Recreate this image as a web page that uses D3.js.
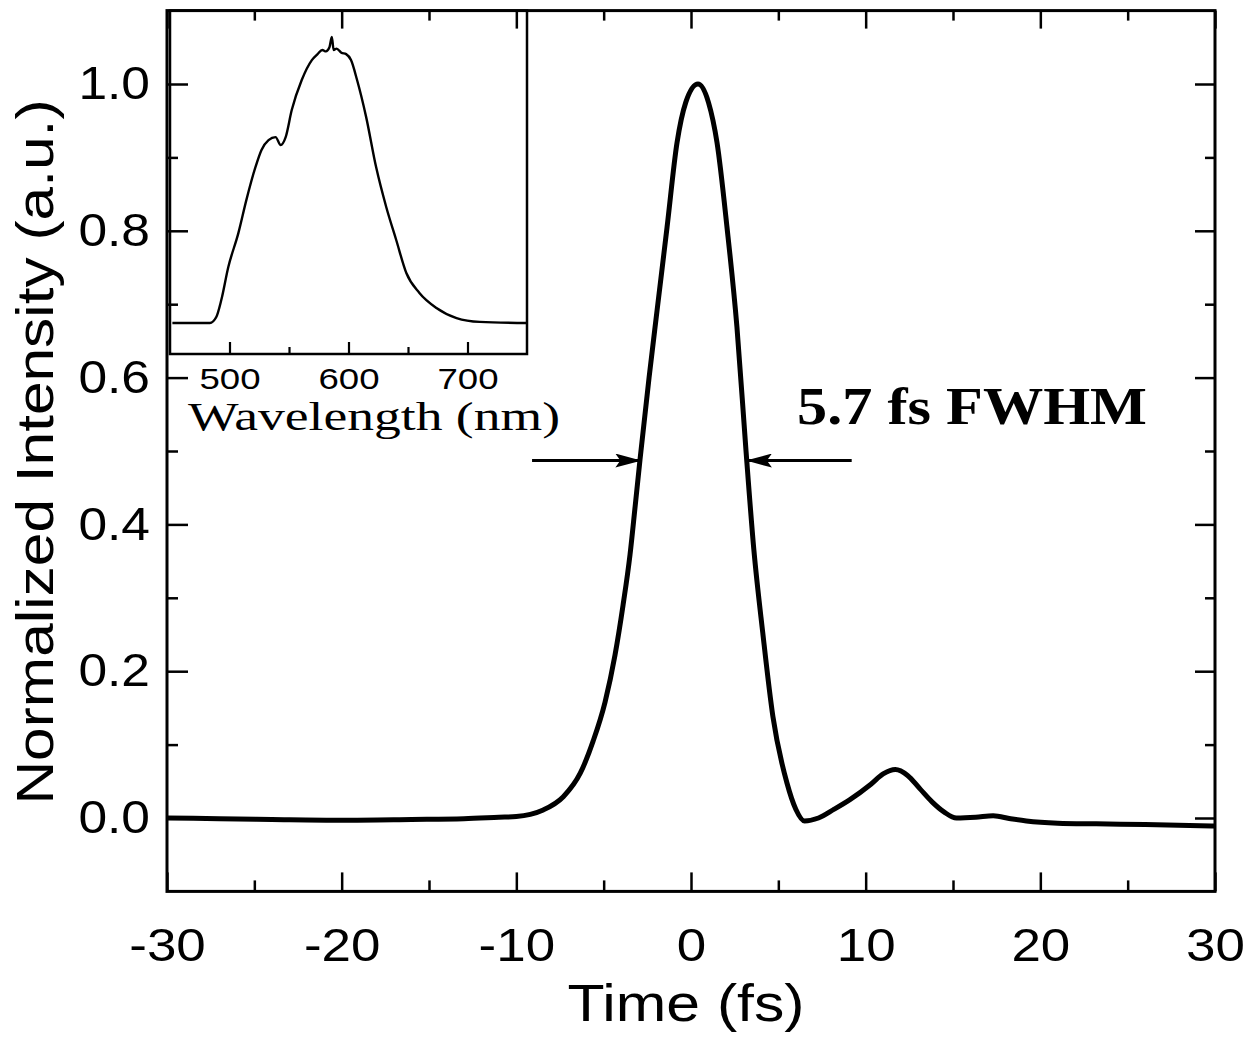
<!DOCTYPE html>
<html>
<head>
<meta charset="utf-8">
<script src="https://cdn.jsdelivr.net/npm/d3@7"></script>
<style>
  html, body { margin: 0; padding: 0; background: #fff; }
  svg { display: block; }
</style>
</head>
<body>
<svg id="chart" width="1249" height="1040"></svg>
<script>
// ---------------- DATA ----------------
// Main trace: time (fs) and normalized intensity
const timeFs = [-30, -27, -24, -20, -16, -13, -11, -10, -9.2, -8.46, -7.31, -6.34, -5.6, -4.92, -4.35, -3.89, -3.49, -3.2, -2.92, -2.4, -1.94, -1.37, -0.8, -0.3, 0.4, 1.0, 1.49, 2.06, 2.63, 3.15, 3.6, 4.11, 4.69, 5.49, 6.0, 6.5, 7.3, 8.2, 9.1, 10.3, 11.0, 11.7, 12.4, 13.1, 13.8, 14.5, 15.2, 16.3, 17.3, 18.3, 19.2, 21, 23.2, 26, 30];
const intensity = [0.0, -0.001, -0.002, -0.003, -0.002, -0.001, 0.001, 0.002, 0.005, 0.011, 0.029, 0.061, 0.105, 0.158, 0.222, 0.29, 0.359, 0.424, 0.488, 0.6, 0.692, 0.805, 0.92, 0.975, 1.0, 0.975, 0.92, 0.805, 0.669, 0.5, 0.365, 0.252, 0.138, 0.048, 0.012, -0.004, 0.0, 0.012, 0.025, 0.046, 0.06, 0.066, 0.058, 0.04, 0.022, 0.008, 0.0, 0.001, 0.003, -0.001, -0.004, -0.007, -0.008, -0.009, -0.011];

// Inset spectrum: wavelength (nm) and relative intensity
const wavelengthNm = [452, 483.5, 488.9, 493.1, 499.0, 507.5, 514.2, 521.8, 526.9, 532.8, 538.7, 543.0, 547.2, 552.3, 560.7, 569.2, 574, 578, 581, 584, 586, 587.5, 590, 594, 598, 602.1, 607.2, 614.8, 623.2, 631.7, 640.1, 648.6, 659.6, 673.9, 690.8, 710.3, 750];
const spectrum = [0, 0, 0.022, 0.084, 0.205, 0.330, 0.451, 0.571, 0.634, 0.670, 0.681, 0.652, 0.681, 0.780, 0.890, 0.963, 0.985, 1.0, 0.995, 1.01, 1.048, 1.0, 1.005, 0.99, 0.985, 0.963, 0.890, 0.755, 0.571, 0.425, 0.304, 0.183, 0.110, 0.055, 0.018, 0.004, 0];

// Tick values / labels
const xMajorTicks = [-30, -20, -10, 0, 10, 20, 30];
const xMinorTicks = [-25, -15, -5, 5, 15, 25];
const yMajorTicks = [0.0, 0.2, 0.4, 0.6, 0.8, 1.0];
const yMinorTicks = [0.1, 0.3, 0.5, 0.7, 0.9];
const insetMajorTicks = [500, 600, 700];
const insetMinorTicks = [550, 650];

// FWHM annotation (time in fs, level in normalized intensity)
const fwhmLevel = 0.487;
const fwhmLeftArrow = [-9.1, -2.9];
const fwhmRightArrow = [9.2, 3.2];

// ---------------- DRAW ----------------
const svg = d3.select("#chart");
const SANS = "'Liberation Sans', Arial, Helvetica, sans-serif";
const SERIF = "'Liberation Serif', 'Times New Roman', Times, serif";

const x = d3.scaleLinear().domain([-30, 30]).range([167, 1215]);
const y = d3.scaleLinear().domain([-0.1, 1.1]).range([891.4, 10.6]);

function stretch(sel, factor) {
  sel.each(function () {
    const L = this.getComputedTextLength();
    d3.select(this).attr("textLength", L * factor).attr("lengthAdjust", "spacingAndGlyphs");
  });
}
function styleAxis(g, sw) {
  g.select(".domain").remove();
  g.selectAll(".tick line").attr("stroke", "#000").attr("stroke-width", sw);
}
const plainInt = d => String(d);

// main curve
const line = d3.line()
  .x((d, i) => x(timeFs[i]))
  .y((d, i) => y(intensity[i]))
  .curve(d3.curveMonotoneX);
svg.append("path")
  .attr("d", line(intensity))
  .attr("fill", "none")
  .attr("stroke", "#000")
  .attr("stroke-width", 5)
  .attr("stroke-linejoin", "round");

// Inset
const ix = d3.scaleLinear().domain([450, 750]).range([170, 527]);
const iy = d3.scaleLinear().domain([-0.1136, 1.1443]).range([354, 10.6]);
const inset = svg.append("g");
inset.append("rect")
  .attr("x", ix(450)).attr("y", iy(1.1443))
  .attr("width", ix(750) - ix(450)).attr("height", iy(-0.1136) - iy(1.1443))
  .attr("fill", "none").attr("stroke", "#000").attr("stroke-width", 2.5);
const iLine = d3.line()
  .x((d, i) => ix(wavelengthNm[i]))
  .y((d, i) => iy(spectrum[i]))
  .curve(d3.curveMonotoneX);
inset.append("path")
  .attr("d", iLine(spectrum))
  .attr("fill", "none").attr("stroke", "#000").attr("stroke-width", 2.4)
  .attr("stroke-linejoin", "round");
const iBot = inset.append("g").attr("transform", `translate(0,${iy(-0.1136)})`)
  .call(d3.axisBottom(ix).tickValues(insetMajorTicks).tickSize(-12).tickPadding(14).tickFormat(plainInt));
styleAxis(iBot, 2.2);
iBot.selectAll("text").attr("font-family", SANS).attr("font-size", 30).attr("fill", "#000");
stretch(iBot.selectAll("text"), 1.22);
const iBotMinor = inset.append("g").attr("transform", `translate(0,${iy(-0.1136)})`)
  .call(d3.axisBottom(ix).tickValues(insetMinorTicks).tickSize(-7).tickFormat(""));
styleAxis(iBotMinor, 2.2);
inset.append("text")
  .attr("x", 188).attr("y", 430)
  .attr("font-family", SERIF).attr("font-size", 41)
  .attr("textLength", 372).attr("lengthAdjust", "spacingAndGlyphs")
  .text("Wavelength (nm)");

// Main axes (ticks inward)
const gBottom = svg.append("g").attr("transform", `translate(0,${y(-0.1)})`)
  .call(d3.axisBottom(x).tickValues(xMajorTicks).tickSize(-19).tickPadding(37).tickFormat(plainInt));
styleAxis(gBottom, 2.5);
gBottom.selectAll("text").attr("font-family", SANS).attr("font-size", 46).attr("fill", "#000");
stretch(gBottom.selectAll("text"), 1.15);
const gBottomMinor = svg.append("g").attr("transform", `translate(0,${y(-0.1)})`)
  .call(d3.axisBottom(x).tickValues(xMinorTicks).tickSize(-11).tickFormat(""));
styleAxis(gBottomMinor, 2.5);

const gTop = svg.append("g").attr("transform", `translate(0,${y(1.1)})`)
  .call(d3.axisTop(x).tickValues(xMajorTicks).tickSize(-18).tickFormat(""));
styleAxis(gTop, 2.5);
const gTopMinor = svg.append("g").attr("transform", `translate(0,${y(1.1)})`)
  .call(d3.axisTop(x).tickValues(xMinorTicks).tickSize(-10).tickFormat(""));
styleAxis(gTopMinor, 2.5);

const gLeft = svg.append("g").attr("transform", `translate(${x(-30)},0)`)
  .call(d3.axisLeft(y).tickValues(yMajorTicks).tickSize(-21).tickPadding(17).tickFormat(d3.format(".1f")));
styleAxis(gLeft, 2.5);
gLeft.selectAll("text").attr("font-family", SANS).attr("font-size", 46).attr("fill", "#000");
stretch(gLeft.selectAll("text"), 1.12);
const gLeftMinor = svg.append("g").attr("transform", `translate(${x(-30)},0)`)
  .call(d3.axisLeft(y).tickValues(yMinorTicks).tickSize(-11).tickFormat(""));
styleAxis(gLeftMinor, 2.5);

const gRight = svg.append("g").attr("transform", `translate(${x(30)},0)`)
  .call(d3.axisRight(y).tickValues(yMajorTicks).tickSize(-20).tickFormat(""));
styleAxis(gRight, 2.5);
const gRightMinor = svg.append("g").attr("transform", `translate(${x(30)},0)`)
  .call(d3.axisRight(y).tickValues(yMinorTicks).tickSize(-10).tickFormat(""));
styleAxis(gRightMinor, 2.5);

// Frame
svg.append("rect")
  .attr("x", x(-30)).attr("y", y(1.1))
  .attr("width", x(30) - x(-30)).attr("height", y(-0.1) - y(1.1))
  .attr("fill", "none").attr("stroke", "#000").attr("stroke-width", 3);

// Axis titles
svg.append("text")
  .attr("x", 686).attr("y", 1021)
  .attr("text-anchor", "middle")
  .attr("font-family", SANS).attr("font-size", 52)
  .attr("textLength", 237).attr("lengthAdjust", "spacingAndGlyphs")
  .text("Time (fs)");
svg.append("text")
  .attr("transform", "translate(53,452) rotate(-90)")
  .attr("text-anchor", "middle")
  .attr("font-family", SANS).attr("font-size", 52)
  .attr("textLength", 705).attr("lengthAdjust", "spacingAndGlyphs")
  .text("Normalized Intensity (a.u.)");

// FWHM arrows
const defs = svg.append("defs");
defs.append("marker")
  .attr("id", "arrow").attr("markerUnits", "userSpaceOnUse")
  .attr("markerWidth", 26).attr("markerHeight", 14)
  .attr("refX", 25).attr("refY", 7).attr("orient", "auto")
  .append("path").attr("d", "M0,0 L26,7 L0,14 L5,7 Z").attr("fill", "#000");
[fwhmLeftArrow, fwhmRightArrow].forEach(a => {
  svg.append("line")
    .attr("x1", x(a[0])).attr("x2", x(a[1]))
    .attr("y1", y(fwhmLevel)).attr("y2", y(fwhmLevel))
    .attr("stroke", "#000").attr("stroke-width", 3)
    .attr("marker-end", "url(#arrow)");
});
svg.append("text")
  .attr("x", 797).attr("y", 424)
  .attr("font-family", SERIF).attr("font-size", 52).attr("font-weight", "bold")
  .attr("textLength", 350).attr("lengthAdjust", "spacingAndGlyphs")
  .text("5.7 fs FWHM");
</script>
</body>
</html>
